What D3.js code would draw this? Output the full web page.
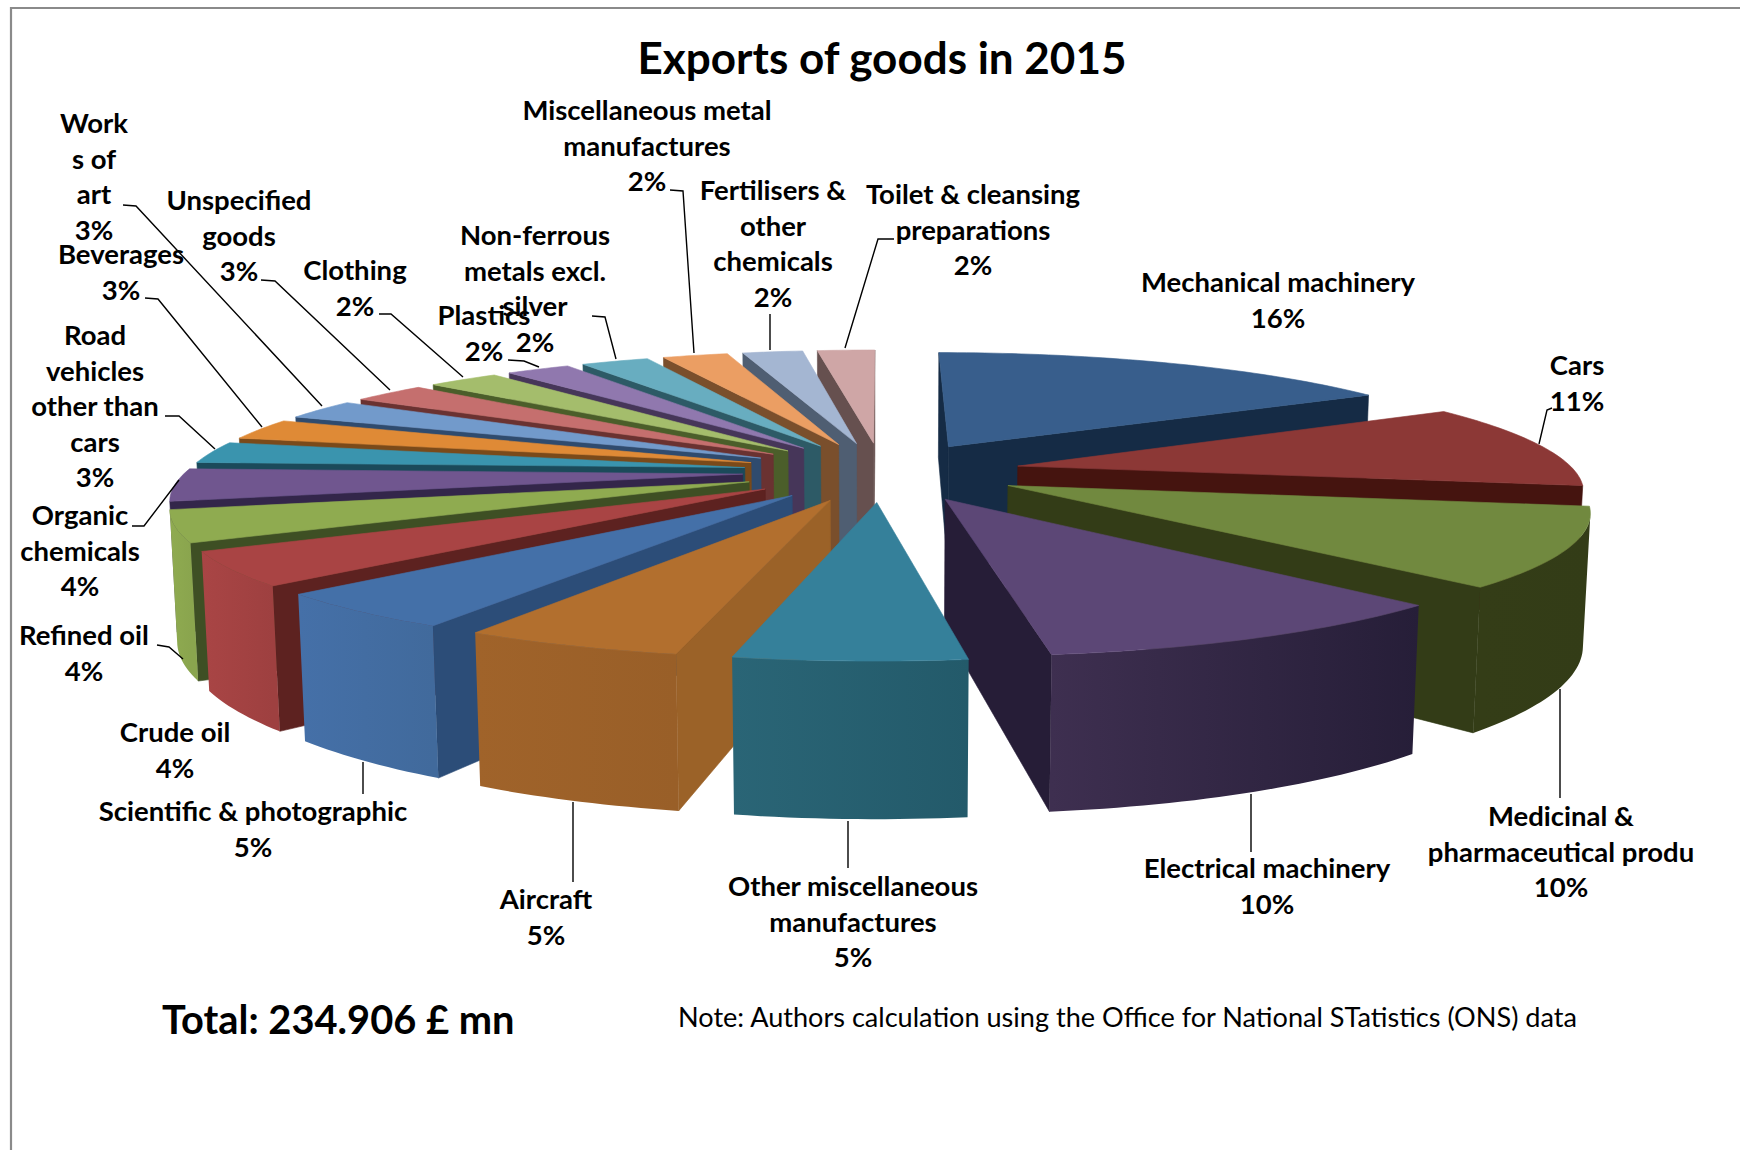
<!DOCTYPE html>
<html>
<head>
<meta charset="utf-8">
<title>Exports of goods in 2015</title>
<script src="https://cdn.jsdelivr.net/npm/d3@7"></script>
<style>
  html, body { margin: 0; padding: 0; background: #fff; }
  svg { display: block; }
  text { font-family: Lato, "Open Sans", sans-serif; fill: #000; }
</style>
</head>
<body>
<svg id="chart" width="1740" height="1150"></svg>
<script>
// Export categories, clockwise from twelve o'clock
const categories = [
  "Mechanical machinery", "Cars", "Medicinal & pharmaceutical produ", "Electrical machinery",
  "Other miscellaneous manufactures", "Aircraft", "Scientific & photographic", "Crude oil",
  "Refined oil", "Organic chemicals", "Road vehicles other than cars", "Beverages",
  "Works of art", "Unspecified goods", "Clothing", "Plastics",
  "Non-ferrous metals excl. silver", "Miscellaneous metal manufactures",
  "Fertilisers & other chemicals", "Toilet & cleansing preparations"
];
// Share of total exports, percent before rounding for the labels
const shares = [16.47, 11.08, 10.14, 10.14, 5.32, 5.1, 4.7, 4.33, 4.08, 4.22,
                2.82, 2.76, 2.62, 2.57, 2.49, 2.24, 2.37, 2.28, 2.1, 2.0];

// Colours per slice: top face, cut faces, outer rim at first and last angle
const topColors = ["#385e8c","#8c3836","#71893f","#5c4776","#35809a","#b26f2e","#4470a8","#a94444","#8fab50","#70568f",
                   "#3a94ae","#df8a36","#729acb","#c56f6e","#a4bd6c","#9078ae","#68adc0","#eb9e63","#a4b6d2","#cfa6a6"];
const cutColors = ["#152b45","#45140f","#333c17","#261d37","#245f72","#9b6228","#2c4d78","#5d2220","#3e4f24","#33264a",
                   "#1b4a5a","#7a4a1a","#2f4b6e","#6a3231","#4b5e2a","#463659","#2d5a66","#7a4f2c","#4f5e72","#66504f"];
const rimStart  = ["#152b45","#45140f","#333c17","#261e38","#235a6a","#995f28","#416a9c","#9e4040","#8aa54e","#70568f",
                   "#3a94ae","#df8a36","#729acb","#c56f6e","#a4bd6c","#9078ae","#68adc0","#eb9e63","#a4b6d2","#cfa6a6"];
const rimEnd    = ["#152b45","#45140f","#343d17","#3e2f50","#2a6576","#a0632a","#4570a8","#a94545","#8fab50","#70568f",
                   "#3a94ae","#df8a36","#729acb","#c56f6e","#a4bd6c","#9078ae","#68adc0","#eb9e63","#a4b6d2","#cfa6a6"];

// Wrapped label lines, placed by hand the way the spreadsheet laid them out
const labelLines = [
  ["Mechanical machinery"], ["Cars"], ["Medicinal &", "pharmaceutical produ"], ["Electrical machinery"],
  ["Other miscellaneous", "manufactures"], ["Aircraft"], ["Scientific & photographic"], ["Crude oil"],
  ["Refined oil"], ["Organic", "chemicals"], ["Road", "vehicles", "other than", "cars"], ["Beverages"],
  ["Work", "s of", "art"], ["Unspecified", "goods"], ["Clothing"], ["Plastics"],
  ["Non-ferrous", "metals excl.", "silver"], ["Miscellaneous metal", "manufactures"],
  ["Fertilisers &", "other", "chemicals"], ["Toilet & cleansing", "preparations"]
];
const labelAnchors = [
  [1278,292],[1577,375],[1561,826],[1267,878],[853,896],[546,909],[253,821],[175,742],[84,645],[80,525],
  [95,345],[121,264],[94,133],[239,210],[355,280],[484,325],[535,245],[647,120],[773,200],[973,204]
];
const leaders = [
  null,
  [[1539,444],[1547,410],[1552,408]],
  [[1560,689],[1560,798]],
  [[1251,794],[1251,852]],
  [[848,821],[848,868]],
  [[573,802],[573,882]],
  [[363,762],[363,794]],
  null,
  [[157,645],[169,647],[183,659]],
  [[132,526],[144,526],[179,480]],
  [[165,416],[179,416],[215,449]],
  [[145,298],[158,299],[262,427]],
  [[123,205],[136,206],[322,406]],
  [[261,280],[275,281],[390,390]],
  [[379,314],[391,314],[463,377]],
  [[508,360],[524,361],[539,367]],
  [[592,316],[605,317],[616,359]],
  [[670,190],[683,191],[694,353]],
  [[770,314],[770,350]],
  [[894,239],[878,239],[845,348]]
];

const svg = d3.select("#chart");
const defs = svg.append("defs");

// Frame round the chart area: top and left edges only
svg.append("path")
  .attr("d", "M11,1150V8H1740")
  .attr("fill", "none").attr("stroke", "#8a8a8a").attr("stroke-width", 2.2);

// Perspective view of the pie: x is sideways, v runs towards the viewer, z is depth below the top face
const explode = 0.25, converge = 0.175, sink = 0.01;
const xScale = d3.scaleLinear().domain([0, 1]).range([0, 557]);
const vScale = d3.scaleLinear().domain([0, 1]).range([0, 118.5]);
const zScale = d3.scaleLinear().domain([0, 1]).range([0, 127]);
const originX = 882, originY = 471.5;
function project(x, v, z) {
  const w = 1 - converge * v + sink * z;
  return [originX + xScale(x) / w, originY + (vScale(v) + zScale(z)) / w];
}

const pie = d3.pie().sort(null).value(d => d);
const line = d3.line().curve(d3.curveLinearClosed);
const slices = pie(shares).map((s, i) => {
  const mid = (s.startAngle + s.endAngle) / 2;
  const ax = explode * Math.sin(mid), av = -explode * Math.cos(mid);
  return { i, s, mid, ax, av, depth: -(explode + 0.6) * Math.cos(mid) };
}).sort((a, b) => a.depth - b.depth);

const eyeV = 1 / converge;
const facesViewer = (nx, nv, px, pv) => nx * (-px) + nv * (eyeV - pv) > 0;

const g = svg.append("g");
function face(points, color) {
  g.append("path").attr("d", line(points)).attr("fill", color)
    .attr("stroke", color).attr("stroke-width", 0.6).attr("stroke-linejoin", "round");
}

slices.forEach(({ i, s, ax, av }) => {
  const a0 = s.startAngle, a1 = s.endAngle;
  const rim = a => [ax + Math.sin(a), av - Math.cos(a)];
  const wall = (px, pv) => [project(ax, av, 0), project(px, pv, 0), project(px, pv, 1), project(ax, av, 1)];

  // Flat cut faces on either side of the wedge
  const [sx, sv] = rim(a0), [ex, ev] = rim(a1);
  if (facesViewer(-Math.cos(a0), -Math.sin(a0), ax, av)) face(wall(sx, sv), cutColors[i]);
  if (facesViewer(Math.cos(a1), Math.sin(a1), ax, av)) face(wall(ex, ev), cutColors[i]);

  // Outer rim: the part turned to the viewer, shaded from one end of the arc to the other
  const steps = Math.max(8, Math.ceil((a1 - a0) / 0.02));
  const angles = d3.range(steps + 1).map(b => a0 + (a1 - a0) * b / steps);
  const seen = angles.filter(t => {
    const [mx, mv] = rim(t);
    return facesViewer(Math.sin(t), -Math.cos(t), mx, mv);
  });
  if (seen.length > 1) {
    const top = seen.map(t => project(...rim(t), 0));
    const bottom = seen.map(t => project(...rim(t), 1)).reverse();
    const gradId = `rim-${i}`;
    const grad = defs.append("linearGradient").attr("id", gradId)
      .attr("gradientUnits", "userSpaceOnUse")
      .attr("x1", top[0][0]).attr("y1", 0)
      .attr("x2", top[top.length - 1][0]).attr("y2", 0);
    grad.append("stop").attr("offset", 0).attr("stop-color", rimStart[i]);
    grad.append("stop").attr("offset", 1).attr("stop-color", rimEnd[i]);
    g.append("path").attr("d", line([...top, ...bottom])).attr("fill", `url(#${gradId})`);
  }

  // Top face
  const arcPts = angles.map(t => project(...rim(t), 0));
  face([project(ax, av, 0), ...arcPts], topColors[i]);
});

// Leader lines
const leaderLine = d3.line();
leaders.forEach(pts => {
  if (pts) svg.append("path").attr("d", leaderLine(pts)).attr("fill", "none")
    .attr("stroke", "#000").attr("stroke-width", 1.4);
});

// Data labels: wrapped category text followed by the rounded share
const lineHeight = 35.6;
categories.forEach((c, i) => {
  const [lx, ly] = labelAnchors[i];
  const t = svg.append("text").attr("text-anchor", "middle")
    .attr("font-size", 27.5).attr("font-weight", 700);
  [...labelLines[i], `${Math.round(shares[i])}%`].forEach((ln, k) => {
    t.append("tspan").attr("x", lx).attr("y", ly + k * lineHeight).text(ln);
  });
});

// Title and footer
svg.append("text").attr("x", 882).attr("y", 74).attr("text-anchor", "middle")
  .attr("font-size", 44).attr("font-weight", 700).text("Exports of goods in 2015");
svg.append("text").attr("x", 162).attr("y", 1034)
  .attr("font-size", 39.8).attr("font-weight", 700).text("Total: 234.906 £ mn");
svg.append("text").attr("x", 678).attr("y", 1027)
  .attr("font-size", 27.1).text("Note: Authors calculation using the Office for National STatistics (ONS) data");
</script>
</body>
</html>
